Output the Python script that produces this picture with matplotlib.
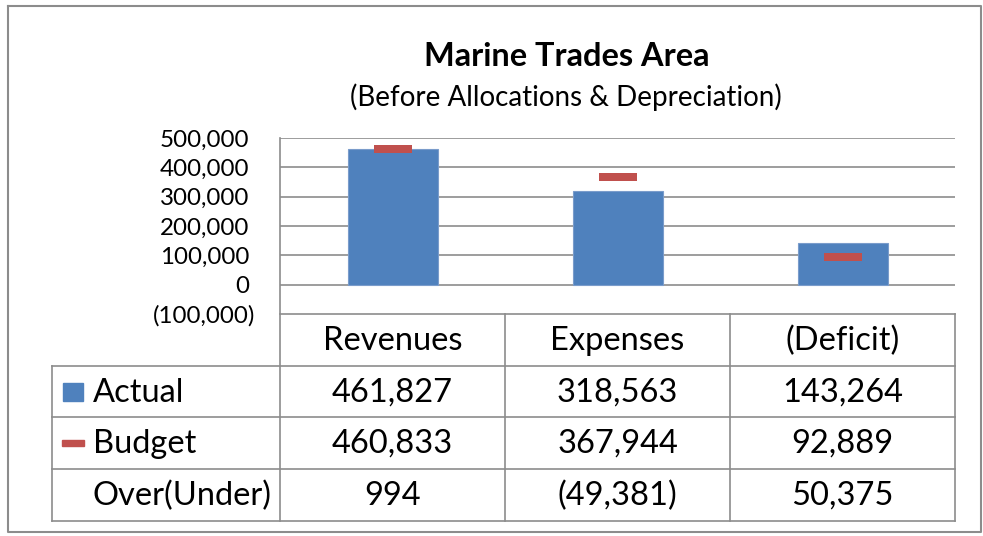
import matplotlib.pyplot as plt
from matplotlib.transforms import ScaledTranslation

plt.rcParams['font.family'] = ['Lato', 'DejaVu Sans']

# data
categories = ['Revenues', 'Expenses', '(Deficit)']
actual = [461827, 318563, 143264]
budget = [460833, 367944, 92889]
over_under = [994, -49381, 50375]
row_names = ['Actual', 'Budget', 'Over(Under)']
yticks = [-100000, 0, 100000, 200000, 300000, 400000, 500000]

blue = '#4F81BD'
red = '#C0504D'
grid_c = '#8C8C8C'


def fmt(v):
    if v < 0:
        return '({:,})'.format(-v)
    return '{:,}'.format(v)


W, H = 983, 536
fig = plt.figure(figsize=(W / 100, H / 100), dpi=100)

# plot area in pixels: x 280..955, y 138..314
ax = fig.add_axes([280 / W, 1 - 314 / H, 675 / W, 176 / H])
x = range(len(categories))
ax.bar(x, actual, width=0.4, color=blue, edgecolor='#7A9CCB', linewidth=0.8, zorder=3)
dash = [(-1, -0.23), (1, -0.23), (1, 0.23), (-1, 0.23), (-1, -0.23)]
ax.plot(x, budget, linestyle='none', marker=dash, markersize=28,
        color=red, markeredgewidth=0, zorder=4)

ax.set_xlim(-0.5, len(categories) - 0.5)
ax.set_ylim(yticks[0], yticks[-1])
ax.set_yticks(yticks)
ax.set_yticklabels([fmt(v) for v in yticks], fontsize=17.4)
ax.tick_params(axis='y', length=0, pad=22)
ax.set_xticks([])
for v in yticks[1:]:
    ax.axhline(v, color=grid_c, lw=1.2, zorder=1)
for s in ['top', 'right', 'bottom', 'left']:
    ax.spines[s].set_visible(False)
# negative label sits a bit to the right (Excel's aligned parentheses)
neg = ax.get_yticklabels()[0]
neg.set_transform(neg.get_transform() + ScaledTranslation(6 / 100, 0, fig.dpi_scale_trans))

# overlay in pixel coords for titles, table and border
ov = fig.add_axes([0, 0, 1, 1], zorder=5)
ov.set_xlim(0, W)
ov.set_ylim(H, 0)
ov.axis('off')
ov.patch.set_alpha(0)

ov.text(567, 56, 'Marine Trades Area', ha='center', va='center',
        fontsize=23.4, fontweight='bold')
ov.text(566, 97, '(Before Allocations & Depreciation)', ha='center',
        va='center', fontsize=20)

# outer border
ov.plot([8, 981, 981, 8, 8], [6, 6, 532, 532, 6], color='#8C8C8C', lw=1.5)

# data table
col_x = [280, 505, 730, 955]
row_y = [314, 366, 417, 469, 521]
tlw = 1.2
ov.plot([280, 280], [138, 521], color=grid_c, lw=tlw)
ov.plot([280, 955], [314, 314], color=grid_c, lw=tlw)
for cx in col_x[1:]:
    ov.plot([cx, cx], [314, 521], color=grid_c, lw=tlw)
for ry in row_y[1:]:
    ov.plot([52, 955], [ry, ry], color=grid_c, lw=tlw)
ov.plot([52, 52], [366, 521], color=grid_c, lw=tlw)

for i, c in enumerate(categories):
    ov.text((col_x[i] + col_x[i + 1]) / 2, (row_y[0] + row_y[1]) / 2 + 1, c,
            ha='center', va='center', fontsize=23.5)

rows = [actual, budget, over_under]
for r, vals in enumerate(rows):
    yc = (row_y[r + 1] + row_y[r + 2]) / 2 + 1
    ov.text(93, yc, row_names[r], ha='left', va='center', fontsize=23.5)
    for i, v in enumerate(vals):
        ov.text((col_x[i] + col_x[i + 1]) / 2, yc, fmt(v), ha='center',
                va='center', fontsize=23.5)

# legend keys
yk0 = (row_y[1] + row_y[2]) / 2
ov.add_patch(plt.Rectangle((63, yk0 - 9), 20, 18, color=blue))
yk1 = (row_y[2] + row_y[3]) / 2
ov.add_patch(plt.Rectangle((62, yk1 - 3), 22, 6, color=red))

fig.savefig('out.png', dpi=100)
